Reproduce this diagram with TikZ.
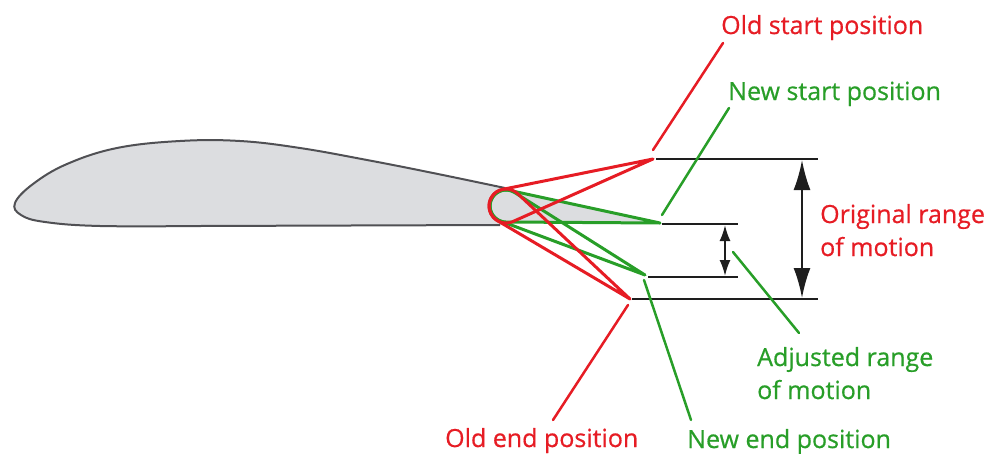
\documentclass[tikz,border=0pt]{standalone}
\usepackage{fontspec}
\newfontfamily\labelfont{Open Sans}[FakeBold=0.6]
\usetikzlibrary{arrows.meta,calc}

\definecolor{flapred}{RGB}{230,28,36}
\definecolor{flapgreen}{RGB}{40,158,40}
\definecolor{wingfill}{RGB}{220,221,224}
\definecolor{wingedge}{RGB}{80,80,84}
\definecolor{rulegray}{RGB}{30,30,30}

\begin{document}
\begin{tikzpicture}[x=1pt,y=1pt,
  redline/.style={draw=flapred,line width=3pt,line join=round,line cap=round},
  greenline/.style={draw=flapgreen,line width=3pt,line join=round,line cap=round},
  rule/.style={draw=rulegray,line width=2.5pt},
  labeltext/.style={inner sep=0pt,anchor=base west,align=left,
    font=\labelfont\fontsize{25}{33}\selectfont},
  redtext/.style={labeltext,text=flapred},
  greentext/.style={labeltext,text=flapgreen},
  bigtip/.tip={Latex[length=30pt,width=17pt]},
  smalltip/.tip={Latex[length=16pt,width=11pt]}
]
\useasboundingbox (0,0) rectangle (1002,-453);

% hinge of the trailing-edge tab and the four tab tips
\coordinate (hub) at (506,-206);
\coordinate (R1) at (653,-159);
\coordinate (R2) at (630,-299);
\coordinate (G1) at (660,-223);
\coordinate (G2) at (645,-275);

% airfoil body
\fill[wingfill] plot[smooth,tension=0.65] coordinates {
  (505,-188) (433,-173) (367,-160) (300,-148) (240,-141) (180,-141)
  (117,-148) (67,-164) (33,-184) (15,-203) (21,-215) (45,-222)
  (100,-226) (200,-226)} -- (505,-225) -- cycle;
\fill[wingfill] (hub) circle[radius=17];
\draw[wingedge,line width=2pt] plot[smooth,tension=0.65] coordinates {
  (505,-188) (433,-173) (367,-160) (300,-148) (240,-141) (180,-141)
  (117,-148) (67,-164) (33,-184) (15,-203) (21,-215) (45,-222)
  (100,-226) (200,-226)} -- (500,-225);

% adjusted tab positions
\fill[wingfill] (G1) -- ($(hub)+(77.77:16)$)
  arc[start angle=77.77,end angle=269.63,radius=16] -- cycle;
\draw[greenline] (G1) -- ($(hub)+(77.77:16)$)
  arc[start angle=77.77,end angle=269.63,radius=16] -- (G1);
\draw[greenline] (G2) -- ($(hub)+(57.68:16)$)
  arc[start angle=57.68,end angle=249.52,radius=16] -- (G2);

% original tab positions
\draw[redline] (R1) -- ($(hub)+(101.4:17)$)
  arc[start angle=101.4,end angle=294.06,radius=17] -- (R1);
\draw[redline] (R2) -- ($(hub)+(46.83:17)$)
  arc[start angle=46.83,end angle=239.43,radius=17] -- (R2);

% extension lines
\coordinate (l1a) at (656,-159); \coordinate (l1b) at (818,-159);
\coordinate (l2a) at (662,-224); \coordinate (l2b) at (738,-224);
\coordinate (l3a) at (648,-277); \coordinate (l3b) at (738,-277);
\coordinate (l4a) at (632,-299); \coordinate (l4b) at (818,-299);
\draw[rule] (l1a) -- (l1b);
\draw[rule] (l2a) -- (l2b);
\draw[rule] (l3a) -- (l3b);
\draw[rule] (l4a) -- (l4b);

% range dimension arrows
\coordinate (bigtop) at (802,-160); \coordinate (bigbot) at (802,-298);
\coordinate (smalltop) at (725,-225); \coordinate (smallbot) at (725,-276);
\draw[rule,line width=2.2pt,bigtip-bigtip] (bigtop) -- (bigbot);
\draw[rule,line width=2pt,smalltip-smalltip] (smalltop) -- (smallbot);

% labels
\node[redtext] (oldstart) at (721,-34) {Old start position};
\node[greentext] (newstart) at (728,-100) {New start position};
\node[redtext] (origrange) at (820,-256) {Original range\\of motion};
\node[greentext] (adjrange) at (757,-399) {Adjusted range\\of motion};
\node[greentext] (newend) at (687,-448) {New end position};
\node[redtext] (oldend) at (445,-447) {Old end position};

% leader lines
\coordinate (oslo) at (653,-150); \coordinate (oshi) at (723,-43);
\coordinate (nslo) at (662,-215); \coordinate (nshi) at (729,-108);
\coordinate (arhi) at (733,-252); \coordinate (arlo) at (799,-333);
\coordinate (nehi) at (644,-280); \coordinate (nelo) at (691,-420);
\coordinate (oehi) at (628,-305); \coordinate (oelo) at (553,-420);
\draw[redline,line width=2.5pt] (oslo) -- (oshi);
\draw[greenline,line width=2.5pt] (nslo) -- (nshi);
\draw[greenline,line width=2.5pt] (arhi) -- (arlo);
\draw[greenline,line width=2.5pt] (nehi) -- (nelo);
\draw[redline,line width=2.5pt] (oehi) -- (oelo);
\end{tikzpicture}
\end{document}
